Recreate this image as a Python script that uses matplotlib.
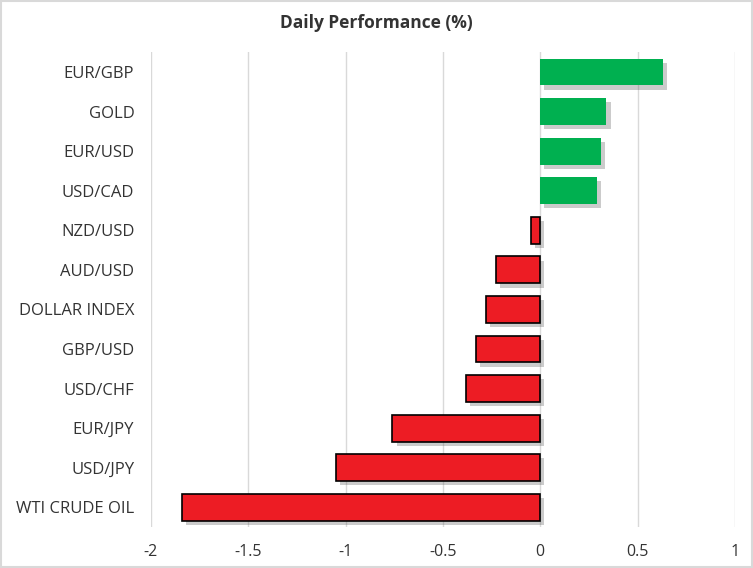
import matplotlib
matplotlib.use("Agg")
import matplotlib.pyplot as plt
import matplotlib.patheffects as pe
from matplotlib.patches import Rectangle

labels = ["EUR/GBP", "GOLD", "EUR/USD", "USD/CAD", "NZD/USD", "AUD/USD",
          "DOLLAR INDEX", "GBP/USD", "USD/CHF", "EUR/JPY", "USD/JPY", "WTI CRUDE OIL"]
values = [0.63, 0.34, 0.31, 0.29, -0.05, -0.23, -0.28, -0.33, -0.38, -0.76, -1.05, -1.84]
xticks = [-2, -1.5, -1, -0.5, 0, 0.5, 1]
xtick_labels = ["-2", "-1.5", "-1", "-0.5", "0", "0.5", "1"]

plt.rcParams["font.family"] = ["Open Sans", "DejaVu Sans"]

fig = plt.figure(figsize=(7.53, 5.68), dpi=100)
ax = fig.add_axes([0.2005, 0.072, 0.7755, 0.836])

ypos = list(range(len(labels)))
shadow = [pe.SimplePatchShadow(offset=(3, -3), shadow_rgbFace="#555555", alpha=0.3), pe.Normal()]
for y, v in zip(ypos, values):
    if v >= 0:
        ax.barh(y, v, height=0.68, color="#00b050", edgecolor="none", zorder=3,
                path_effects=shadow)
    else:
        ax.barh(y, v, height=0.68, color="#ed1c24", edgecolor="black", linewidth=1.2,
                zorder=3, path_effects=shadow)

ax.set_xlim(-2, 1)
ax.set_ylim(len(labels) - 0.5, -0.5)
ax.set_yticks(ypos)
ax.set_yticklabels(labels, fontsize=12, color="#333333")
ax.set_xticks(xticks)
ax.set_xticklabels(xtick_labels, fontsize=11.5, color="#333333")
ax.tick_params(length=0)
ax.tick_params(axis="y", pad=12)
ax.tick_params(axis="x", pad=12)
ax.grid(axis="x", color="#d9d9d9", linewidth=1, zorder=0)
ax.set_axisbelow(True)
for s in ax.spines.values():
    s.set_visible(False)

fig.text(0.5, 0.96, "Daily Performance (%)", ha="center", va="center",
         fontsize=12.5, fontweight="bold", color="#333333")
fig.patches.append(Rectangle((0.001, 0.001), 0.998, 0.998, transform=fig.transFigure,
                             fill=False, edgecolor="#d9d9d9", linewidth=1.5))

fig.savefig("out.png", dpi=100)
